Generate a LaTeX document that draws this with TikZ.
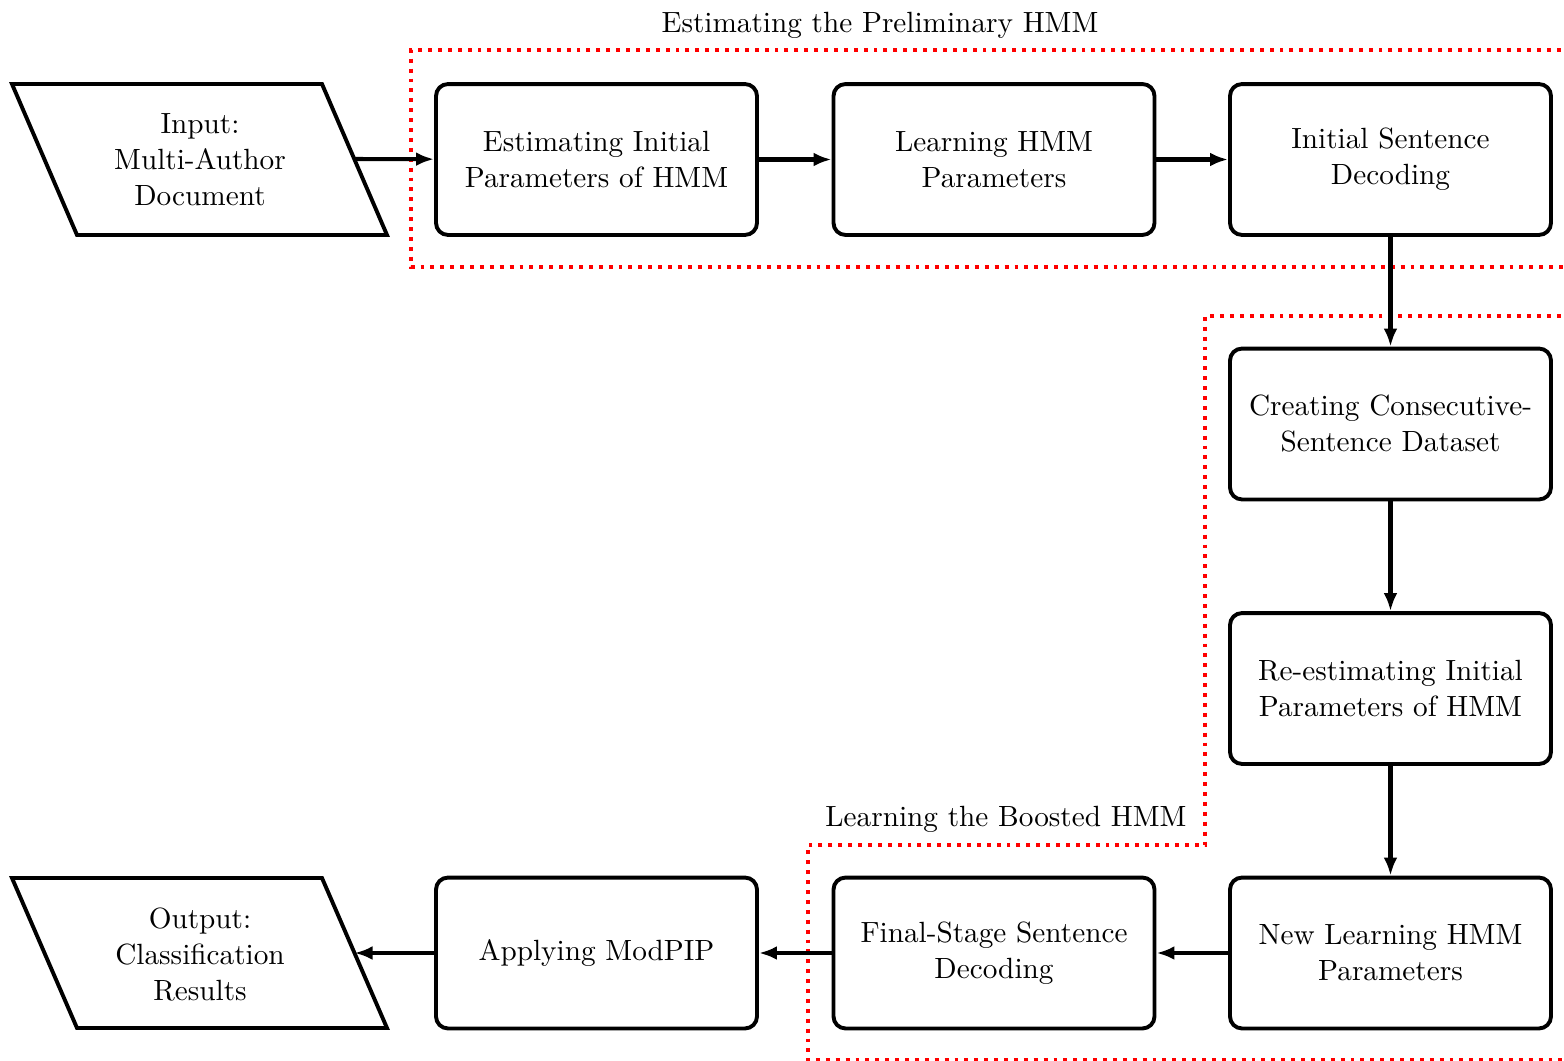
\documentclass[tikz,border=0pt]{standalone}
\usetikzlibrary{arrows.meta}
\begin{document}
\begin{tikzpicture}[x=0.33333pt,y=-0.33333pt,
  font=\fontsize{9.75pt}{12pt}\selectfont,
  stepbox/.style={draw,line width=1.3pt,rounded corners=4pt,
    minimum width=107pt,minimum height=50.3pt,align=center,inner sep=2pt},
  iobox/.style={draw,line width=1.3pt,line join=miter},
  iotext/.style={align=center,inner sep=0pt},
  flow/.style={line width=1.35pt,-{Latex[length=6pt,width=4.6pt]}},
  group/.style={red,line width=1.3pt,dash pattern=on 1.3pt off 2pt},
  grouplabel/.style={inner sep=0pt}]
\useasboundingbox (0,0) rectangle (1564,1060);
\clip (0,0) rectangle (1564,1060);

% grouping frames
\draw[group] (1620,50) -- (411,50) -- (411,267) -- (1620,267);
\draw[group] (1620,316) -- (1205,316) -- (1205,845) -- (808,845) -- (808,1060.3) -- (1620,1060.3);
\node[grouplabel] (gtop) at (880,25.5) {Estimating the Preliminary HMM};
\node[grouplabel,anchor=east] (gbot) at (1187,819.5) {Learning the Boosted HMM};

% input and output parallelograms
\draw[iobox] (12,84) -- (322,84) -- (387,235) -- (77,235) -- cycle;
\node[iotext] (in) at (200,160) {Input:\\Multi-Author\\Document};
\coordinate (inR) at (354.5,159);
\draw[iobox] (12,878) -- (322,878) -- (387,1028) -- (77,1028) -- cycle;
\node[iotext] (out) at (200,954) {Output:\\Classification\\Results};
\coordinate (outR) at (354.5,953);

% process steps
\node[stepbox] (est)  at (596.5,159.5) {Estimating Initial\\Parameters of HMM};
\node[stepbox] (learn) at (994,159.5) {Learning HMM\\Parameters};
\node[stepbox] (dec)  at (1390.5,159.5) {Initial Sentence\\Decoding};
\node[stepbox] (cons) at (1390.5,424) {Creating Consecutive-\\Sentence Dataset};
\node[stepbox] (reest) at (1390.5,688.5) {Re-estimating Initial\\Parameters of HMM};
\node[stepbox] (newl) at (1390.5,953) {New Learning HMM\\Parameters};
\node[stepbox] (final) at (994,953) {Final-Stage Sentence\\Decoding};
\node[stepbox] (mod)  at (596.5,953) {Applying ModPIP};

% connectors
\draw[flow] (inR) -- (est);
\draw[flow] (est) -- (learn);
\draw[flow] (learn) -- (dec);
\draw[flow] (dec) -- (cons);
\draw[flow] (cons) -- (reest);
\draw[flow] (reest) -- (newl);
\draw[flow] (newl) -- (final);
\draw[flow] (final) -- (mod);
\draw[flow] (mod) -- (outR);
\end{tikzpicture}
\end{document}
